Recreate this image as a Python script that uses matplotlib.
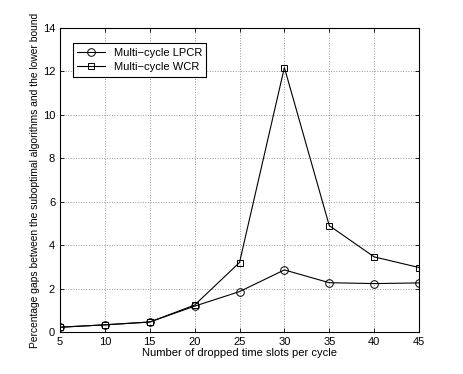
import matplotlib
matplotlib.use("Agg")
import matplotlib.pyplot as plt

x = [5, 10, 15, 20, 25, 30, 35, 40, 45]
lpcr = [0.22, 0.33, 0.46, 1.19, 1.86, 2.86, 2.27, 2.23, 2.26]
wcr = [0.22, 0.33, 0.46, 1.24, 3.20, 12.18, 4.90, 3.46, 2.97]
xticks = [5, 10, 15, 20, 25, 30, 35, 40, 45]
yticks = [0, 2, 4, 6, 8, 10, 12, 14]

plt.rcParams['font.family'] = ['Liberation Sans', 'DejaVu Sans']
fig = plt.figure(figsize=(4.63, 3.74), dpi=100)
ax = fig.add_axes([60/463, 1-332/374, (419-60)/463, (332-28)/374])

ax.plot(x, lpcr, color='black', lw=0.8, marker='o', markersize=5.5,
        markerfacecolor='none', markeredgewidth=0.7, label='Multi\u2212cycle LPCR')
ax.plot(x, wcr, color='black', lw=0.8, marker='s', markersize=5,
        markerfacecolor='none', markeredgewidth=0.7, label='Multi\u2212cycle WCR')

ax.set_xlim(5, 45)
ax.set_ylim(0, 14)
ax.set_xticks(xticks)
ax.set_yticks(yticks)
ax.tick_params(direction='in', labelsize=8, length=3, width=0.6, top=True, right=True)
ax.grid(True, linestyle=':', color='#999999', lw=0.7)
for s in ax.spines.values():
    s.set_linewidth(0.8)
ax.set_xlabel('Number of dropped time slots per cycle', fontsize=8, labelpad=1)
ax.set_ylabel('Percentage gaps between the suboptimal algorithms and the lower bound', fontsize=7.4, labelpad=2)
leg = ax.legend(loc='upper left', bbox_to_anchor=(0.035, 0.95), fontsize=8, frameon=True,
                fancybox=False, edgecolor='black', framealpha=1, borderaxespad=0,
                handlelength=2.5, borderpad=0.4, labelspacing=0.4)
leg.get_frame().set_linewidth(0.8)
fig.savefig('out.png', dpi=100)
